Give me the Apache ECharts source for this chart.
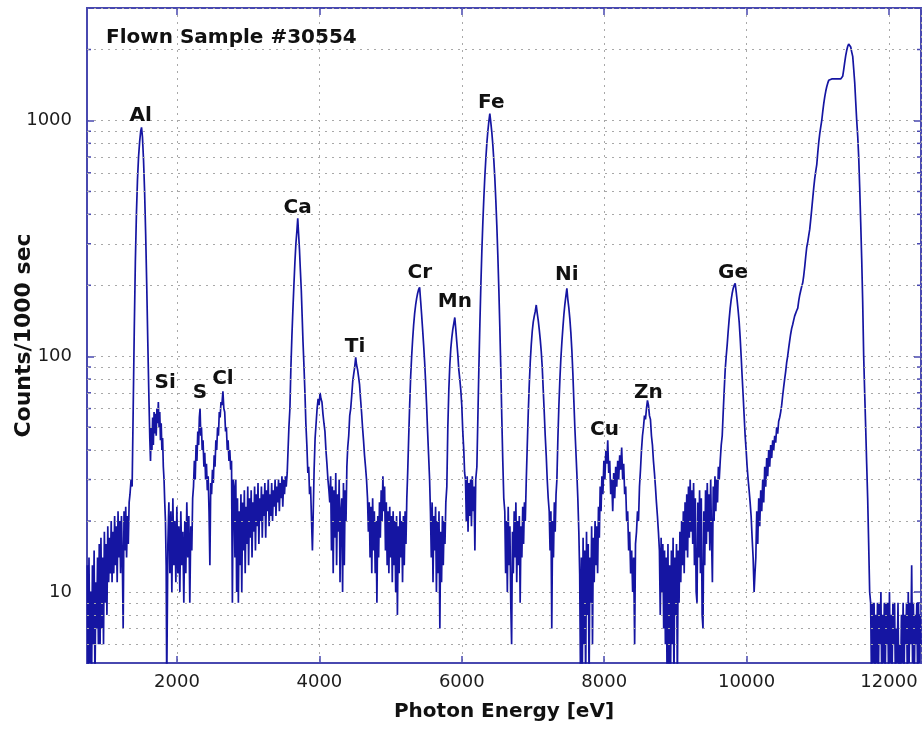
<!DOCTYPE html>
<html>
<head>
<meta charset="utf-8">
<title>Flown Sample #30554</title>
<script src="https://cdn.jsdelivr.net/npm/echarts@6/dist/echarts.min.js"></script>
<style>
  html, body { margin: 0; padding: 0; background: #fff; }
  #chart { width: 923px; height: 729px; }
</style>
</head>
<body>
<div id="chart"></div>
<script>
// spectrum as [energy eV, counts/1000 sec], one piece per region
var bgLow = [[740,13],[752,4],[764,14],[776,5],[788,10],[800,4],[812,13],[824,6],[836,15],[848,4],[860,11],[872,7],[884,14],[896,6],[908,16],[920,6],[932,17],[944,7],[956,14],[968,6],[980,18],[992,9],[1004,16],[1016,8],[1028,19],[1040,11],[1052,17],[1064,12],[1076,20],[1088,11],[1100,18],[1112,12],[1124,21],[1136,13],[1148,19],[1160,11],[1172,22],[1184,14],[1196,20],[1208,12],[1220,21],[1232,14],[1244,7],[1256,22],[1268,15],[1280,23],[1292,14],[1304,21],[1316,16],[1328,24],[1340,26]];
var peakAl = [[1355,30],[1370,28],[1385,60],[1400,130],[1415,250],[1430,400],[1445,560],[1460,700],[1475,810],[1490,900],[1502,935],[1515,850],[1530,680],[1545,500],[1560,330],[1575,200],[1590,115],[1605,68],[1618,45],[1628,36],[1638,50],[1648,40]];
var peakSi = [[1658,55],[1668,42],[1678,58],[1688,47],[1698,57],[1708,46],[1718,60],[1728,52],[1738,64],[1748,50],[1758,58],[1768,44],[1778,52],[1788,40],[1798,45],[1808,34],[1818,30],[1828,24],[1838,20],[1848,13],[1856,4],[1864,4]];
var bandSiS = [[1872,16],[1886,24],[1900,12],[1914,22],[1928,10],[1942,25],[1956,13],[1970,20],[1984,11],[1998,23],[2012,12],[2026,19],[2040,10],[2054,22],[2068,13],[2082,18],[2096,9],[2110,20],[2124,12],[2138,24],[2152,14],[2166,21],[2180,9],[2194,19],[2208,15],[2220,25]];
var peaksSCl = [[2232,28],[2244,36],[2256,30],[2268,42],[2280,36],[2292,48],[2304,42],[2314,55],[2324,60],[2334,46],[2344,50],[2354,40],[2366,44],[2378,34],[2390,39],[2402,30],[2414,35],[2426,27],[2438,31],[2450,22],[2462,13],[2474,29],[2486,26],[2498,33],[2510,29],[2522,38],[2534,34],[2546,44],[2558,40],[2570,50],[2582,46],[2594,58],[2606,55],[2618,64],[2630,62],[2645,71],[2658,60],[2670,58],[2682,48],[2694,50],[2706,40],[2718,44],[2730,36],[2742,40],[2754,33],[2766,36],[2778,9],[2790,30]];
var bandClCa = [[2802,28],[2814,14],[2826,30],[2838,10],[2850,25],[2862,9],[2874,22],[2886,13],[2898,26],[2910,10],[2922,24],[2934,15],[2946,27],[2958,12],[2970,23],[2982,16],[2994,28],[3006,13],[3018,25],[3030,17],[3042,27],[3054,14],[3066,24],[3078,18],[3090,28],[3102,15],[3114,26],[3126,19],[3138,29],[3150,16],[3162,25],[3174,20],[3186,28],[3198,17],[3210,26],[3222,21],[3234,29],[3246,17],[3258,27],[3270,22],[3282,30],[3294,19],[3306,26],[3318,21],[3330,29],[3342,20],[3354,27],[3366,23],[3378,30],[3390,21],[3402,28],[3414,24],[3426,30],[3438,22],[3450,29],[3462,25],[3474,31],[3486,23],[3498,30],[3510,26],[3522,31],[3534,28]];
var peakCa = [[3548,32],[3560,40],[3572,50],[3586,60],[3600,90],[3614,122],[3628,158],[3642,200],[3656,250],[3670,300],[3684,340],[3696,385],[3708,330],[3720,285],[3732,235],[3746,190],[3758,148],[3770,115],[3784,90],[3797,70],[3810,52],[3824,42],[3838,32],[3850,34],[3862,26],[3876,28],[3890,20],[3902,15],[3914,22],[3926,33],[3940,45],[3954,52],[3968,60],[3982,66],[3996,62],[4010,70],[4022,66],[4036,64],[4050,57],[4064,52],[4078,48],[4092,40],[4106,35],[4120,30],[4134,27]];
var bandCaTi = [[4146,24],[4158,31],[4170,15],[4182,28],[4194,12],[4206,27],[4218,17],[4230,32],[4242,13],[4254,26],[4266,18],[4278,30],[4290,11],[4302,22],[4314,25],[4326,10],[4338,29],[4350,13],[4362,27],[4374,20],[4386,34]];
var peakTi = [[4398,41],[4412,46],[4426,56],[4440,60],[4454,68],[4468,78],[4482,84],[4496,90],[4510,99],[4522,92],[4536,88],[4550,82],[4564,76],[4578,66],[4592,58],[4606,50],[4620,44],[4634,38],[4648,34],[4662,30],[4676,25]];
var bandTiCr = [[4688,18],[4700,24],[4712,14],[4724,23],[4736,12],[4748,25],[4760,15],[4772,22],[4784,12],[4796,20],[4808,9],[4820,21],[4832,14],[4844,24],[4856,17],[4868,27],[4880,20],[4892,31],[4904,22],[4916,28],[4928,15],[4940,24],[4952,13],[4964,22],[4976,12],[4988,23],[5000,14],[5012,21],[5024,11],[5036,22],[5048,13],[5060,20],[5072,10],[5084,21],[5096,8],[5108,19],[5120,12],[5132,22],[5144,14],[5156,20],[5168,11],[5180,21],[5192,13],[5204,22],[5216,16],[5228,25]];
var peakCr = [[5240,32],[5254,45],[5268,62],[5282,82],[5296,100],[5310,118],[5324,136],[5338,152],[5352,165],[5366,176],[5380,185],[5394,192],[5408,196],[5422,172],[5436,150],[5450,130],[5464,112],[5478,95],[5492,78],[5506,62],[5520,48],[5534,38],[5548,30]];
var bandCrMn = [[5560,22],[5572,14],[5584,24],[5596,11],[5608,21],[5620,15],[5632,23],[5644,10],[5656,20],[5668,12],[5680,22],[5692,7],[5704,18],[5716,11],[5728,21],[5740,13],[5752,20],[5764,16],[5776,24]];
var peakMn = [[5790,28],[5804,50],[5818,72],[5832,92],[5846,108],[5860,120],[5874,130],[5888,138],[5902,146],[5916,130],[5930,115],[5944,102],[5958,88],[5972,80],[5986,72],[6000,62],[6014,48],[6028,40],[6040,32]];
var bandMnFe = [[6052,30],[6064,20],[6076,31],[6088,18],[6100,29],[6112,21],[6124,30],[6136,19],[6148,31],[6160,22],[6172,28],[6184,15],[6196,30]];
var peakFe = [[6212,34],[6226,55],[6240,89],[6254,136],[6268,200],[6282,280],[6296,370],[6310,470],[6324,580],[6338,690],[6352,800],[6366,900],[6380,990],[6394,1070],[6408,980],[6422,890],[6436,790],[6450,680],[6464,570],[6478,460],[6492,360],[6506,270],[6520,195],[6534,134],[6548,89],[6562,55],[6576,36],[6590,25]];
var bandFe = [[6604,22],[6616,12],[6628,20],[6640,10],[6652,23],[6664,13],[6676,19],[6688,9],[6700,6],[6712,18],[6724,12],[6736,22],[6748,14],[6760,24],[6772,11],[6784,20],[6796,13],[6808,21],[6820,9],[6832,19],[6844,14],[6856,23],[6868,16],[6880,24],[6892,20]];
var peakFeB = [[6906,30],[6920,42],[6934,58],[6948,76],[6962,95],[6976,112],[6990,128],[7004,140],[7018,148],[7032,155],[7046,165],[7060,152],[7074,142],[7088,130],[7102,118],[7116,105],[7130,90],[7144,72],[7158,58],[7172,46],[7186,38],[7200,30],[7214,25],[7228,22]];
var bandFeNi = [[7240,15],[7252,22],[7264,7],[7276,20],[7288,14],[7300,24],[7312,18],[7324,26]];
var peakNi = [[7336,30],[7350,45],[7364,62],[7378,80],[7392,98],[7406,115],[7420,132],[7434,150],[7448,166],[7462,180],[7476,194],[7490,174],[7504,160],[7518,144],[7532,126],[7546,106],[7560,85],[7574,65],[7588,50],[7602,40],[7616,32],[7630,25],[7644,18],[7656,12],[7668,4]];
var bandNiCu = [[7680,14],[7692,4],[7704,17],[7716,6],[7728,15],[7740,4],[7752,18],[7764,8],[7776,16],[7788,4],[7800,14],[7812,9],[7824,19],[7836,6],[7848,17],[7860,11],[7872,20],[7884,13],[7896,19],[7908,12],[7920,23],[7932,17],[7944,28],[7956,22]];
var peakCu = [[7968,31],[7982,26],[7996,36],[8010,30],[8024,40],[8038,35],[8050,44],[8064,32],[8078,36],[8092,26],[8106,30],[8120,22],[8134,32],[8148,25],[8162,34],[8176,28],[8190,36],[8204,30],[8218,38],[8232,33],[8246,41],[8260,30],[8274,35],[8288,26],[8302,28],[8316,20],[8330,22],[8344,15],[8358,18],[8372,12],[8386,15],[8400,10],[8414,14],[8428,6],[8440,16]];
var peakZn = [[8454,18],[8468,22],[8482,20],[8496,28],[8510,33],[8524,40],[8538,46],[8552,50],[8566,56],[8580,54],[8594,60],[8608,65],[8622,62],[8636,56],[8650,54],[8664,46],[8678,42],[8692,36],[8706,32],[8720,28],[8734,24],[8748,21],[8762,18]];
var bandZnGe = [[8776,15],[8788,8],[8800,17],[8812,10],[8824,16],[8836,7],[8848,15],[8860,6],[8872,14],[8884,4],[8896,16],[8908,4],[8920,13],[8932,4],[8944,15],[8956,6],[8968,17],[8980,4],[8992,14],[9004,8],[9016,16],[9028,4],[9040,15],[9052,9],[9064,18],[9076,11],[9088,20],[9100,13],[9112,22],[9124,12],[9136,24],[9148,15],[9160,26],[9172,14],[9184,28],[9196,17],[9208,30],[9220,18],[9232,27],[9244,16],[9256,29],[9268,13],[9280,25],[9292,10],[9304,9],[9316,24],[9328,14],[9340,27],[9352,12],[9364,25],[9376,8],[9388,7],[9400,22],[9412,13],[9424,27],[9436,16],[9448,29],[9460,18],[9472,26],[9484,15],[9496,30],[9508,17],[9520,11],[9532,28],[9544,20],[9556,31],[9568,22],[9580,30],[9592,24],[9604,34],[9616,30]];
var peakGe = [[9630,36],[9644,42],[9658,46],[9672,58],[9686,72],[9700,88],[9714,100],[9728,112],[9742,128],[9756,144],[9770,160],[9784,174],[9798,185],[9812,194],[9826,200],[9840,204],[9854,188],[9868,172],[9882,156],[9896,140],[9910,120],[9924,100],[9938,82],[9952,68],[9966,56],[9980,46],[9994,40],[10008,34],[10022,30],[10036,27],[10050,24],[10064,21],[10078,17],[10092,14],[10106,10],[10118,12]];
var ramp = [[10130,14],[10143,22],[10157,16],[10171,25],[10185,19],[10199,27],[10213,22],[10227,30],[10241,24],[10255,34],[10269,28],[10283,37],[10297,31],[10311,40],[10325,34],[10339,42],[10353,37],[10367,44],[10381,40],[10395,46],[10409,43],[10423,50],[10437,47],[10451,53],[10465,55],[10479,58],[10493,62],[10507,68],[10521,74],[10535,80],[10549,86],[10563,94],[10577,100],[10591,108],[10605,116],[10619,124],[10633,131],[10647,136],[10661,142],[10675,148],[10689,152],[10703,156],[10719,160],[10733,172],[10747,182],[10761,190],[10775,198],[10789,205],[10803,220],[10817,240],[10831,265],[10845,290],[10859,305],[10873,325],[10887,345],[10901,380],[10915,420],[10930,470],[10944,520],[10958,570],[10972,610],[10986,650],[11000,730],[11014,810],[11028,880],[11042,940],[11056,1000],[11070,1090],[11084,1180],[11098,1260],[11112,1330],[11126,1390],[11140,1440],[11154,1480],[11168,1500],[11182,1505],[11196,1500],[11210,1500],[11224,1505],[11238,1500],[11252,1500],[11266,1505],[11280,1500],[11294,1500],[11308,1505],[11322,1500],[11336,1510],[11350,1540],[11364,1640],[11378,1760],[11392,1880],[11406,1980],[11420,2060],[11434,2110],[11449,2140],[11463,2050],[11477,1950],[11491,1870],[11505,1650],[11519,1450],[11533,1200],[11547,1000],[11561,860],[11575,700],[11589,520],[11603,370],[11617,260],[11631,170],[11645,100],[11659,70],[11673,50],[11687,35],[11701,25],[11715,16],[11729,10]];
var bgHigh = [[11743,9],[11755,4],[11767,9],[11779,5],[11791,9],[11803,4],[11815,8],[11827,5],[11839,9],[11851,4],[11863,9],[11875,6],[11887,10],[11899,4],[11911,8],[11923,5],[11935,9],[11947,4],[11959,9],[11971,6],[11983,9],[11995,4],[12007,10],[12019,5],[12031,8],[12043,4],[12055,9],[12067,6],[12079,9],[12091,4],[12103,7],[12115,5],[12127,9],[12139,4],[12151,6],[12163,4],[12175,8],[12187,5],[12199,9],[12211,4],[12223,8],[12235,6],[12247,9],[12259,4],[12271,10],[12283,5],[12295,9],[12307,6],[12319,13],[12331,5],[12343,9],[12355,4],[12367,8],[12379,6],[12391,9],[12403,4],[12415,9],[12427,5],[12439,8],[12450,6]];

// peak labels
var elements    = ['Al', 'Si', 'S', 'Cl', 'Ca', 'Ti', 'Cr', 'Mn', 'Fe', 'Ni', 'Cu', 'Zn', 'Ge'];
var labelEnergy = [1490, 1835, 2323, 2645, 3695, 4500, 5411, 5903, 6415, 7475, 8005, 8620, 9810];
var labelCounts = [1050, 77, 70, 80, 427, 110, 226, 170, 1190, 222, 49, 70, 226];

// axis ranges and the minor (dotted) grid of the log axis
var xRange = [736, 12450];
var yRange = [5, 3000];
var yMajor = [10, 100, 1000];
var yMinor = [6, 7, 8, 9, 20, 30, 40, 50, 60, 70, 80, 90, 200, 300, 400, 500, 600, 700, 800, 900, 2000];

var FONT = '"DejaVu Sans", "Liberation Sans", sans-serif';
var frameColor = '#4848b0';
var lineColor = '#1515a2';
var gridColor = '#a8a8a8';
var dotted = [2, 5];

var spectrum = [].concat(bgLow, peakAl, peakSi, bandSiS, peaksSCl, bandClCa, peakCa, bandCaTi, peakTi,
  bandTiCr, peakCr, bandCrMn, peakMn, bandMnFe, peakFe, bandFe, peakFeB, bandFeNi, peakNi, bandNiCu,
  peakCu, peakZn, bandZnGe, peakGe, ramp, bgHigh);

var leftTicks = yMinor.map(function (v) { return [xRange[0], v]; });
var rightTicks = yMinor.map(function (v) { return [xRange[1], v]; });

var chart = echarts.init(document.getElementById('chart'));

var option = {
  animation: false,
  backgroundColor: '#fff',
  title: {
    text: 'Flown Sample #30554',
    left: 101,
    top: 23,
    textStyle: { fontFamily: FONT, fontSize: 20, fontWeight: 'bold', color: '#111' }
  },
  grid: {
    left: 87, right: 2, top: 8, bottom: 66,
    outerBoundsMode: 'none',
    containLabel: false,
    show: true, borderColor: frameColor, borderWidth: 2
  },
  xAxis: [{
    type: 'value',
    min: xRange[0],
    max: xRange[1],
    name: 'Photon Energy [eV]',
    nameLocation: 'middle',
    nameGap: 39,
    nameMoveOverlap: false,
    nameTextStyle: { fontFamily: FONT, fontSize: 20, fontWeight: 'bold', color: '#111' },
    axisLine: { show: true, lineStyle: { color: frameColor, width: 2 } },
    axisTick: { inside: true, length: 7, lineStyle: { color: frameColor, width: 1.5 } },
    axisLabel: {
      fontFamily: FONT, fontSize: 18, color: '#1c1c1c', margin: 10,
      formatter: function (v) { return v % 2000 === 0 ? String(v) : ''; }
    },
    splitLine: { show: true, lineStyle: { color: gridColor, type: dotted, width: 1 } }
  }, {
    type: 'value',
    position: 'top',
    min: xRange[0],
    max: xRange[1],
    axisLine: { show: false },
    axisTick: { inside: true, length: 7, lineStyle: { color: frameColor, width: 1.5 } },
    axisLabel: { show: false },
    splitLine: { show: false }
  }],
  yAxis: [{
    type: 'log',
    logBase: 10,
    min: yRange[0],
    max: yRange[1],
    name: 'Counts/1000 sec',
    nameLocation: 'middle',
    nameGap: 52,
    nameRotate: 90,
    nameMoveOverlap: false,
    nameTextStyle: { fontFamily: FONT, fontSize: 22, fontWeight: 'bold', color: '#111' },
    axisLine: { show: true, lineStyle: { color: frameColor, width: 2 } },
    axisTick: { inside: true, length: 7, lineStyle: { color: frameColor, width: 1.5 } },
    axisLabel: {
      fontFamily: FONT, fontSize: 18, color: '#1c1c1c', margin: 15,
      formatter: function (v) {
        var r = Math.round(v);
        return yMajor.indexOf(r) >= 0 ? String(r) : '';
      }
    },
    splitLine: { show: true, lineStyle: { color: gridColor, type: dotted, width: 1 } }
  }, {
    type: 'log',
    logBase: 10,
    position: 'right',
    min: yRange[0],
    max: yRange[1],
    axisLine: { show: false },
    axisTick: { inside: true, length: 7, lineStyle: { color: frameColor, width: 1.5 } },
    axisLabel: { show: false },
    splitLine: { show: false }
  }],
  series: [{
    // minor ticks on the left edge + the dotted minor grid
    type: 'scatter',
    data: leftTicks,
    symbol: 'rect',
    symbolSize: [4, 1.5],
    symbolOffset: [2, 0],
    itemStyle: { color: frameColor, opacity: 1 },
    clip: false,
    silent: true,
    z: 1,
    markLine: {
      silent: true,
      symbol: ['none', 'none'],
      label: { show: false },
      lineStyle: { color: gridColor, type: dotted, width: 1 },
      data: yMinor.map(function (v) { return { yAxis: v }; })
    }
  }, {
    // minor ticks on the right edge
    type: 'scatter',
    data: rightTicks,
    symbol: 'rect',
    symbolSize: [4, 1.5],
    symbolOffset: [-2, 0],
    itemStyle: { color: frameColor, opacity: 1 },
    clip: false,
    silent: true,
    z: 1
  }, {
    type: 'line',
    data: spectrum,
    showSymbol: false,
    symbol: 'none',
    lineStyle: { color: lineColor, width: 1.7 },
    z: 3
  }, {
    type: 'scatter',
    data: elements.map(function (n, i) { return { name: n, value: [labelEnergy[i], labelCounts[i]] }; }),
    symbolSize: 0,
    silent: true,
    itemStyle: { opacity: 1 },
    label: {
      show: true,
      position: 'inside',
      formatter: '{b}',
      fontFamily: FONT,
      fontSize: 20,
      fontWeight: 'bold',
      color: '#111'
    },
    z: 5
  }]
};

chart.setOption(option);
</script>
</body>
</html>
